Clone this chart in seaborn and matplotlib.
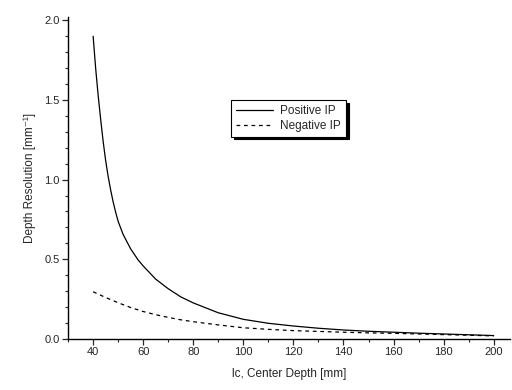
import matplotlib
matplotlib.use("Agg")
import matplotlib.pyplot as plt
from matplotlib.ticker import MultipleLocator
import seaborn as sns
import pandas as pd

depth_pos = [40, 41, 42, 43, 44, 45, 46, 47, 48, 49, 50, 52, 55, 58, 60, 65, 70, 75,
             80, 90, 100, 110, 120, 130, 140, 150, 160, 170, 180, 190, 200]
res_pos = [1.90, 1.70, 1.53, 1.38, 1.24, 1.12, 1.02, 0.935, 0.86, 0.795, 0.738, 0.655,
           0.565, 0.495, 0.458, 0.375, 0.315, 0.264, 0.226, 0.164, 0.123, 0.098, 0.081,
           0.067, 0.056, 0.048, 0.042, 0.036, 0.031, 0.026, 0.021]
depth_neg = [40, 45, 50, 55, 60, 65, 70, 75, 80, 90, 100, 110, 120, 130, 140, 150,
             160, 170, 180, 190, 200]
res_neg = [0.296, 0.26, 0.227, 0.197, 0.172, 0.152, 0.135, 0.12, 0.108, 0.088, 0.07,
           0.06, 0.052, 0.047, 0.042, 0.038, 0.035, 0.031, 0.027, 0.023, 0.019]
series_names = ["Positive IP", "Negative IP"]

df = pd.concat([
    pd.DataFrame({"x": depth_pos, "y": res_pos, "s": series_names[0]}),
    pd.DataFrame({"x": depth_neg, "y": res_neg, "s": series_names[1]}),
])

sns.set_style("ticks")
plt.rcParams["font.family"] = ["Liberation Sans", "DejaVu Sans"]

fig = plt.figure(figsize=(5.12, 3.9), dpi=100)
ax = fig.add_axes([0.133, 0.131, 0.863, 0.825])

sns.lineplot(data=df, x="x", y="y", hue="s", style="s",
             palette=["black", "black"], dashes={series_names[0]: "", series_names[1]: (3, 3)},
             linewidth=0.9, ax=ax, sort=False, estimator=None)

ax.set_xlim(30, 206.5)
ax.set_ylim(0, 2.02)
ax.xaxis.set_major_locator(MultipleLocator(20))
ax.xaxis.set_minor_locator(MultipleLocator(10))
ax.yaxis.set_major_locator(MultipleLocator(0.5))
ax.yaxis.set_minor_locator(MultipleLocator(0.1))
ax.set_xticks([40, 60, 80, 100, 120, 140, 160, 180, 200])
ax.yaxis.set_major_formatter(matplotlib.ticker.FormatStrFormatter("%.1f"))
ax.tick_params(axis="both", which="major", direction="out", length=4, width=0.9,
               labelsize=8, pad=2)
ax.tick_params(axis="both", which="minor", direction="out", length=2, width=0.8)
for s in ["top", "right"]:
    ax.spines[s].set_visible(False)
for s in ["left", "bottom"]:
    ax.spines[s].set_linewidth(1.0)
    ax.spines[s].set_color("black")

ax.set_xlabel("lc, Center Depth [mm]", fontsize=8.5, labelpad=8)
ax.set_ylabel("Depth Resolution [mm\u207b\u00b9]", fontsize=8.5, labelpad=6)

handles, labels = ax.get_legend_handles_labels()
leg = ax.legend(handles, labels, loc="upper left", bbox_to_anchor=(0.355, 0.76),
                fontsize=8.5, frameon=True, fancybox=False, shadow={"color": "black", "alpha": 1},
                handlelength=3.2, borderpad=0.4, labelspacing=0.25, handletextpad=0.6)
leg.get_frame().set_edgecolor("black")
leg.get_frame().set_linewidth(0.8)

fig.savefig("out.png", dpi=100)
